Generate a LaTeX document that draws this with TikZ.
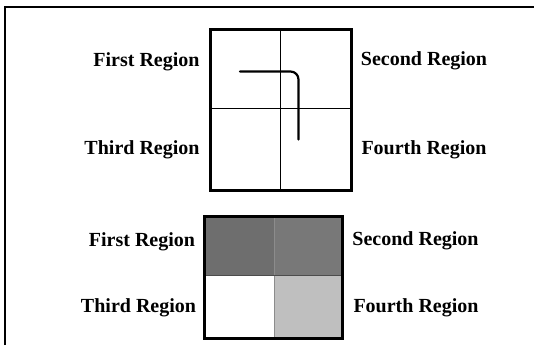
\documentclass[tikz,border=0pt]{standalone}
\usepackage{fontspec}
\setmainfont{Liberation Serif}
\usepackage{tikz}

\begin{document}
\begin{tikzpicture}[x=0.5pt,y=-0.5pt,
    region/.style={font=\bfseries\fontsize{10}{12}\selectfont, inner sep=0pt},
    frame/.style={line width=1.5pt}]
\useasboundingbox (0,0) rectangle (534,345);

% Outer frame (left and top)
\draw[line width=0.8pt] (5,345) -- (5,7) -- (534,7);

% Upper panel
\draw[very thin] (280.5,29) -- (280.5,190);
\draw[very thin] (210.5,108) -- (351,108);
\draw[frame] (210.5,29) rectangle (351,190);

% Stroke
\draw[line width=1.1pt, line cap=round, rounded corners=4pt]
    (240,71.5) -- (298.5,71.5) -- (298.5,139.5);

% Region labels (upper)
\node[region] (first1) at (146.5,62) {First Region};
\node[region] (second1) at (424,61) {Second Region};
\node[region] (third1) at (142,150) {Third Region};
\node[region] (fourth1) at (424,150) {Fourth Region};

% Lower panel, shaded quadrants
\foreach \x/\y/\w/\h/\c in {204.5/216.5/69.5/59/black!57,
                           274/216.5/68.5/59/black!53,
                           204.5/275.5/69.5/62.5/white,
                           274/275.5/68.5/62.5/black!25} {
    \fill[\c] (\x,\y) rectangle ++(\w,\h);
}
\draw[black!45, very thin] (274,216.5) -- (274,338);
\draw[black!70, thin] (204.5,275.5) -- (342.5,275.5);
\draw[frame] (204.5,216.5) rectangle (342.5,338);

% Region labels (lower)
\node[region] (first2) at (142,242) {First Region};
\node[region] (second2) at (415.5,241) {Second Region};
\node[region] (third2) at (138.5,307.5) {Third Region};
\node[region] (fourth2) at (416,307.5) {Fourth Region};
\end{tikzpicture}
\end{document}
